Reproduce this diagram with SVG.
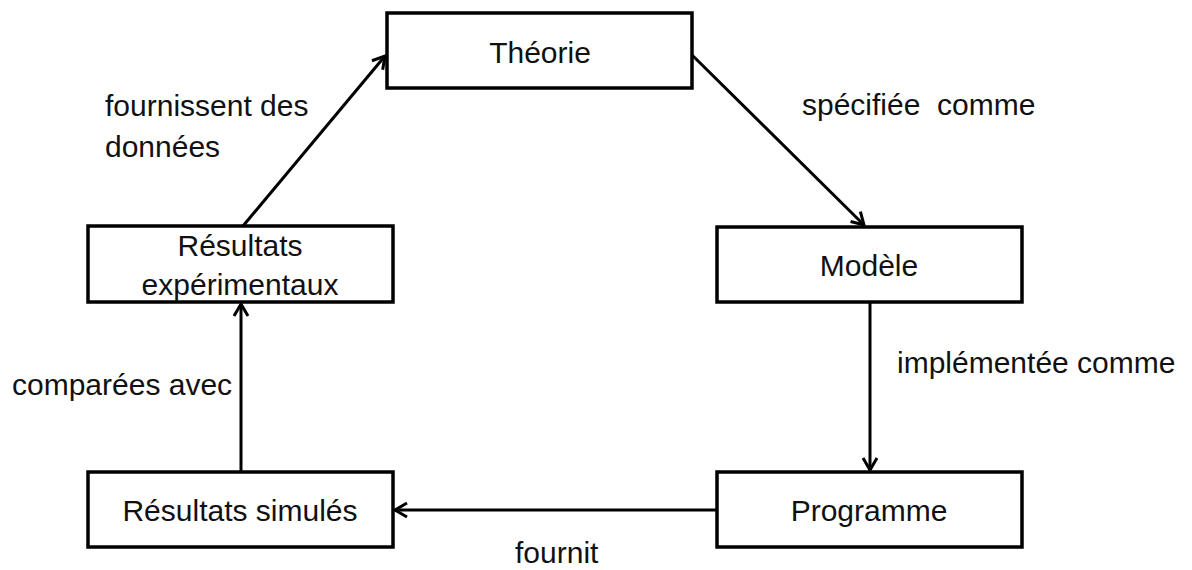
<svg xmlns="http://www.w3.org/2000/svg" width="1192" height="570" viewBox="0 0 1192 570">
<style>
.box{fill:#fff;stroke:#000;stroke-width:3.5}
.t{font-family:"Liberation Sans",Arial,sans-serif;font-size:30px;fill:#111}
.c{text-anchor:middle}
.edge{stroke:#000;stroke-width:3;fill:none;marker-end:url(#arr)}
</style>
<defs>
<marker id="arr" markerUnits="userSpaceOnUse" markerWidth="30" markerHeight="30" refX="0" refY="0" viewBox="-15 -15 30 30" orient="auto" overflow="visible">
<path d="M-12,-7 L0,0 L-12,7" fill="none" stroke="#000" stroke-width="3" stroke-linejoin="miter"/>
</marker>
</defs>
<rect width="1192" height="570" fill="#fff"/>
<g id="connectors">
<line class="edge" x1="243" y1="226" x2="385" y2="56"/>
<line class="edge" x1="692" y1="55" x2="864" y2="225"/>
<line class="edge" x1="870" y1="302" x2="870" y2="470"/>
<line class="edge" x1="717" y1="510" x2="395" y2="510"/>
<line class="edge" x1="241" y1="472" x2="241" y2="304"/>
</g>
<g id="theorie"><rect class="box" x="387" y="13" width="305" height="75"/><text class="t c" x="540" y="63">Théorie</text></g>
<g id="modele"><rect class="box" x="717" y="227" width="305" height="75"/><text class="t c" x="869" y="276">Modèle</text></g>
<g id="programme"><rect class="box" x="717" y="472" width="305" height="75"/><text class="t c" x="869" y="521">Programme</text></g>
<g id="resultats-simules"><rect class="box" x="88" y="472" width="305" height="75"/><text class="t c" x="240" y="521">Résultats simulés</text></g>
<g id="resultats-experimentaux"><rect class="box" x="88" y="226" width="305" height="76"/><text class="t c" x="240" y="256">Résultats</text><text class="t c" x="240" y="295">expérimentaux</text></g>
<g id="labels">
<text class="t" x="105" y="116">fournissent des</text>
<text class="t" x="105" y="157">données</text>
<text class="t" x="802" y="115" xml:space="preserve">spécifiée  comme</text>
<text class="t" x="897" y="373">implémentée comme</text>
<text class="t" x="12" y="395">comparées avec</text>
<text class="t" x="515" y="563">fournit</text>
</g>
</svg>
